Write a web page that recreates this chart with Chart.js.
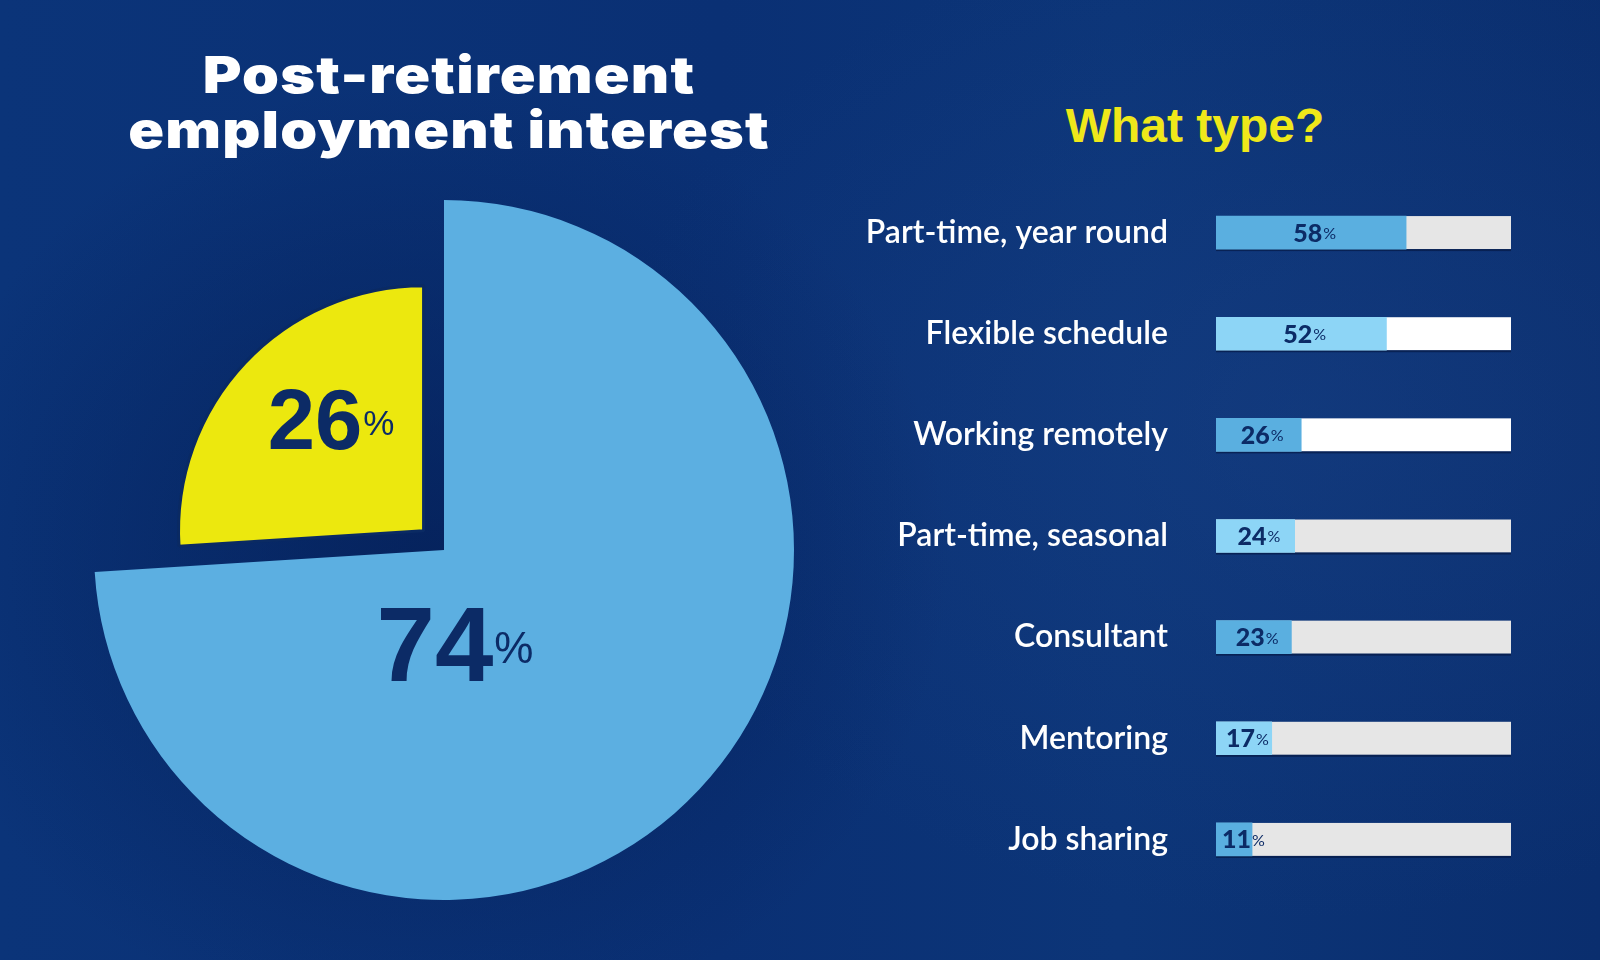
<!DOCTYPE html>
<html lang="en">
<head>
    <meta charset="UTF-8">
    <title>Post-retirement employment interest</title>
    <script src="https://cdn.jsdelivr.net/npm/chart.js@4/dist/chart.umd.min.js"></script>
    <style>
        body {
            margin: 0;
            width: 1600px;
            height: 960px;
            overflow: hidden;
            position: relative;
            background:
                radial-gradient(ellipse 520px 480px at 430px 560px, rgba(4, 30, 85, 0.75), rgba(4, 30, 85, 0) 100%),
                radial-gradient(ellipse 700px 500px at 1300px 420px, rgba(30, 70, 140, 0.35), rgba(30, 70, 140, 0) 100%),
                linear-gradient(90deg, #0b3479 0%, #0a3074 45%, #0c3578 70%, #0a2e6e 100%);
        }
        #title {
            position: absolute;
            left: 0;
            top: 47px;
            width: 898px;
            text-align: center;
            color: #fff;
            font: 900 51px Inter, sans-serif;
            line-height: 55px;
            letter-spacing: 1px;
            transform: scaleX(1.16);
            transform-origin: 449px 0;
        }
        #subtitle {
            position: absolute;
            left: 995px;
            top: 98px;
            width: 400px;
            text-align: center;
            color: #efe81a;
            font: bold 48px "Liberation Sans", sans-serif;
        }
        #pieBox { position: absolute; left: 44px; top: 150px; }
        #barBox { position: absolute; left: 780px; top: 182px; }
    </style>
</head>
<body>
    <div id="title">Post-retirement<br>employment interest</div>
    <div id="subtitle">What type?</div>
    <canvas id="pieBox" width="800" height="800"></canvas>
    <canvas id="barBox" width="731" height="708"></canvas>

    <script>
        // pie: share of retirees
        const pieLabels = ['Interested', 'Not interested'];
        const pieValues = [74, 26];
        const pieColors = ['#5cafe1', '#ece80e'];

        // bars: what type of work
        const typeLabels = ['Part-time, year round', 'Flexible schedule', 'Working remotely',
            'Part-time, seasonal', 'Consultant', 'Mentoring', 'Job sharing'];
        const typeValues = [58, 52, 26, 24, 23, 17, 11];
        const fillColors = ['#5aafe0', '#8dd5f6', '#5aafe0', '#8dd5f6', '#5aafe0', '#8dd5f6', '#5aafe0'];
        const trackColors = ['#e6e6e6', '#ffffff', '#ffffff', '#e6e6e6', '#e6e6e6', '#e6e6e6', '#e6e6e6'];

        const navy = '#0c2b66';

        // the pulled-out slice is also drawn smaller
        const sliceScale = [1, 0.7];
        // label anchor relative to each slice tip, in units of its radius
        const pieLabelAnchor = [[0.03, 0.374], [-0.38, -0.333]];
        const pieLabelFont = [[105, 44], [85, 35]];

        const sliceSize = {
            id: 'sliceSize',
            afterDatasetsUpdate(chart) {
                const meta = chart.getDatasetMeta(0);
                meta.data.forEach((arc, i) => {
                    arc.outerRadius = meta.controller.outerRadius * sliceScale[i];
                });
            }
        };

        // number with a smaller, raised % sign
        function drawPct(ctx, num, x, y, bigSize, smallSize, bigFont, smallFont, minLeft) {
            ctx.font = bigFont.replace('#', bigSize);
            const w1 = ctx.measureText(num).width;
            ctx.font = smallFont.replace('#', smallSize);
            const w2 = ctx.measureText('%').width;
            let left = x - (w1 + w2) / 2;
            if (minLeft !== undefined) left = Math.max(left, minLeft);
            const lift = (bigSize - smallSize) * 0.716 / 2 * 0.8;
            ctx.textAlign = 'left';
            ctx.textBaseline = 'alphabetic';
            ctx.font = bigFont.replace('#', bigSize);
            ctx.fillText(num, left, y);
            ctx.font = smallFont.replace('#', smallSize);
            ctx.fillText('%', left + w1 + 1, y - lift);
        }

        const pieText = {
            id: 'pieText',
            afterDatasetsDraw(chart) {
                const ctx = chart.ctx;
                const meta = chart.getDatasetMeta(0);
                ctx.save();
                ctx.fillStyle = navy;
                meta.data.forEach((arc, i) => {
                    const half = (arc.startAngle + arc.endAngle) / 2;
                    const off = (arc.options.offset || 0) / 4;
                    const tipX = arc.x + Math.cos(half) * off;
                    const tipY = arc.y + Math.sin(half) * off;
                    const r = arc.outerRadius;
                    const x = tipX + pieLabelAnchor[i][0] * r;
                    const y = tipY + pieLabelAnchor[i][1] * r;
                    drawPct(ctx, String(pieValues[i]), x, y, pieLabelFont[i][0], pieLabelFont[i][1],
                        'bold #px "Liberation Sans"', '#px "Liberation Sans"');
                });
                ctx.restore();
            }
        };

        new Chart('pieBox', {
            type: 'pie',
            data: {
                labels: pieLabels,
                datasets: [{
                    data: pieValues,
                    backgroundColor: pieColors,
                    borderColor: '#0a2a63',
                    borderWidth: [0, 3],
                    offset: [0, 112]
                }]
            },
            options: {
                responsive: false,
                animation: false,
                events: [],
                radius: 350,
                layout: { padding: 0 },
                plugins: { legend: { display: false }, tooltip: { enabled: false } }
            },
            plugins: [sliceSize, pieText]
        });

        const barTrack = {
            id: 'barTrack',
            beforeDatasetsDraw(chart) {
                const ctx = chart.ctx;
                const area = chart.chartArea;
                ctx.save();
                chart.getDatasetMeta(0).data.forEach((bar, i) => {
                    ctx.fillStyle = trackColors[i];
                    ctx.fillRect(area.left, bar.y - bar.height / 2, area.right - area.left, bar.height);
                    ctx.fillStyle = 'rgba(3, 20, 60, 0.6)';
                    ctx.fillRect(area.left, bar.y + bar.height / 2, area.right - area.left, 2);
                });
                ctx.restore();
            }
        };

        const barText = {
            id: 'barText',
            afterDatasetsDraw(chart) {
                const ctx = chart.ctx;
                ctx.save();
                ctx.fillStyle = navy;
                chart.getDatasetMeta(0).data.forEach((bar, i) => {
                    const cx = (bar.base + bar.x) / 2 + 3;
                    drawPct(ctx, String(typeValues[i]), cx, bar.y + 9, 25, 16,
                        '900 #px Lato', '#px Lato', bar.base + 6);
                });
                ctx.restore();
            }
        };

        new Chart('barBox', {
            type: 'bar',
            data: {
                labels: typeLabels,
                datasets: [{
                    data: typeValues,
                    backgroundColor: fillColors,
                    barThickness: 33,
                    borderWidth: 0
                }]
            },
            options: {
                indexAxis: 'y',
                responsive: false,
                animation: false,
                events: [],
                layout: { padding: 0 },
                scales: {
                    x: { display: false, min: 0, max: 90 },
                    y: {
                        grid: { display: false },
                        border: { display: false },
                        ticks: {
                            color: '#ffffff',
                            padding: 40,
                            font: { family: 'Lato', size: 32, weight: '600' }
                        },
                        afterFit(s) {
                            s.width = 436;
                            s.paddingTop = 0;
                            s.paddingBottom = 0;
                        }
                    }
                },
                plugins: { legend: { display: false }, tooltip: { enabled: false } }
            },
            plugins: [barTrack, barText]
        });
    </script>
</body>
</html>
